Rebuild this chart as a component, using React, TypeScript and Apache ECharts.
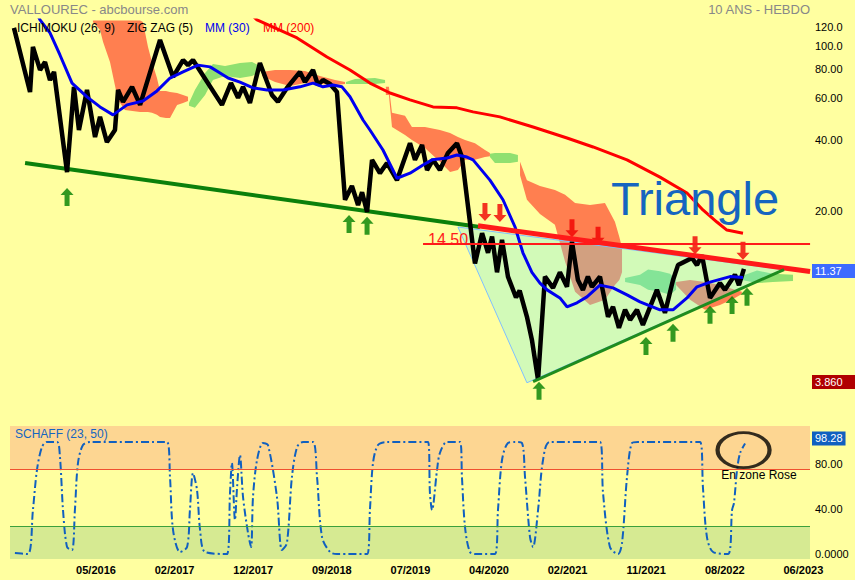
import React, { useEffect, useRef } from 'react';
import * as echarts from 'echarts';

const FONT = '"Liberation Sans", Arial, Helvetica, sans-serif';
const BG = '#FFFFA0';

// x axis: weeks counted from the weekly bar of 16/05/2016
const X_MIN = -44.86;
const X_MAX = 372.46;
const xTickWeeks = [0, 41, 82, 123, 164, 205, 246, 287, 328, 369];
const xTickLabels = ['05/2016', '02/2017', '12/2017', '09/2018', '07/2019', '04/2020', '02/2021', '11/2021', '08/2022', '06/2023'];

// price panel (log scale)
const PRICE_MIN = 3.17;
const PRICE_MAX = 128.5;
const priceTicks = [20, 40, 60, 80, 100, 120];
const lastClose = 11.37;
const lowestLow = 3.86;
const level1450 = 14.5;

// Schaff panel
const SCHAFF_MIN = -4.4;
const SCHAFF_MAX = 113.8;
const schaffTicks = [0, 40, 80];
const schaffHigh = 75;
const schaffLow = 25;
const schaffLast = 98.28;

// [week, price]
const zigzag: [number, number][] = [
  [-42.8, 119], [-34.4, 63.7], [-32.9, 98.9], [-29.2, 79], [-26.6, 85.3], [-24.0, 71.6], [-21.9, 77.5],
  [-15.1, 29.2], [-11.5, 67], [-8.9, 44], [-4.7, 65], [-0.5, 41.1], [2.1, 50], [5.7, 39.1], [9.9, 44],
  [11.5, 65.0], [14.1, 57.9], [18.8, 67.0], [23.0, 56.2], [33.4, 105.8], [40.2, 73.8], [45.4, 87.0],
  [48.0, 82.8], [50.6, 87], [65.7, 56.2], [70.4, 69.5], [74.1, 60.2], [76.7, 67], [80.3, 57.3],
  [85.5, 84.5], [91.8, 61.9], [94.9, 57.9], [99.6, 66.3], [106.4, 77.5], [109.0, 70.2], [113.2, 79],
  [115.8, 68.2], [118.4, 71.6], [122.1, 68.9], [125.7, 63.7], [129.9, 22.3], [133.5, 25.5], [136.7, 21.2],
  [138.8, 24.0], [141.4, 19.8], [144.0, 32.9], [148.1, 28.9], [151.8, 31.9], [157.0, 27.0], [163.8, 38.7],
  [166.4, 32.9], [170.1, 38.0], [172.7, 29.8], [175.8, 32.9], [179.4, 29.8], [183.6, 35.2], [188.3, 38.7],
  [190.9, 33.8], [197.7, 12.0], [201.4, 16.1], [204.5, 13.3], [206.6, 15.6], [209.2, 11.0], [211.8, 15.1],
  [214.9, 10.55], [219.1, 8.6], [221.0, 9.2], [224.8, 7.13], [227.4, 5.69], [230.6, 3.86], [234.2, 10.55],
  [238.4, 9.45], [242.0, 11.0], [245.7, 9.55], [248.3, 14.8], [251.4, 10.2], [254.0, 9.27], [256.6, 10.55],
  [258.7, 9.55], [262.9, 10.55], [267.1, 7.13], [269.7, 7.86], [272.8, 6.40], [276.0, 7.63], [278.6, 6.92],
  [282.2, 7.63], [285.3, 6.59], [292.6, 9.27], [296.8, 7.41], [301.0, 10.2], [303.6, 11.8], [310.9, 12.65],
  [313.5, 11.8], [316.1, 13.0], [320.3, 8.57], [325.5, 9.9], [328.1, 9.27], [333.3, 10.75], [335.4, 9.71],
  [338.0, 11.37],
];

const mm30: [number, number][] = [
  [-31.5, 140], [-29.2, 128.6], [-24.0, 113.3], [-18.8, 91.4], [-12.5, 69.5], [-4.7, 60.8], [2.1, 55.1],
  [8.9, 51.0], [16.2, 56.2], [24.5, 58.4], [31.8, 64.4], [38.6, 73.0], [45.4, 77.5], [53.2, 82.8], [59.5, 81.4],
  [64.7, 76.7], [68.9, 73.0], [75.1, 70.2], [81.9, 66.3], [89.2, 65.0], [97.5, 65.0], [106.4, 67.0],
  [113.2, 69.5], [118.4, 67.0], [123.6, 68.2], [128.3, 67.0], [132.5, 60.8], [139.3, 48.5], [142.9, 44.0],
  [149.7, 36.2], [157.0, 27.5], [163.8, 28.9], [170.6, 31.3], [175.3, 32.9], [183.1, 33.5], [188.3, 34.5],
  [193.5, 33.8], [196.7, 32.9], [205.5, 27.0], [212.3, 22.3], [218.6, 17.1], [222.7, 13.3], [227.4, 11.0],
  [231.6, 9.9], [235.3, 9.27], [242.0, 8.57], [245.7, 7.86], [250.9, 8.17], [256.1, 8.66], [262.9, 9.71],
  [269.7, 9.45], [277.0, 8.83], [283.8, 8.25], [294.2, 7.63], [301.0, 7.63], [308.3, 8.57], [313.5, 9.55],
  [320.3, 10.0], [330.7, 10.55], [337.5, 10.45],
];

const mm200: [number, number][] = [
  [80.0, 138], [84.0, 128.6], [104.9, 107.9], [120.5, 89.6], [132.5, 79.0], [142.9, 69.5], [153.4, 63.1],
  [163.8, 59.0], [175.8, 55.1], [188.3, 54.6], [196.7, 52.5], [210.7, 50.0], [228.0, 45.3], [245.7, 40.7],
  [259.3, 37.3], [277.0, 32.9], [294.2, 27.8], [308.3, 23.8], [316.6, 20.2], [323.9, 17.95], [329.1, 16.6],
  [337.5, 16.1],
];

// Ichimoku cloud segments: [week, upper span, lower span]
const cloudBear1: [number, number, number][] = [
  [-1.6, 128, 126.1], [2.1, 128, 116.7], [3.7, 128, 103.7], [7.3, 128, 85.3], [11.5, 128, 59.0],
  [15.1, 128, 53.5], [23.0, 128, 52.5], [24.5, 126, 52.5], [27.1, 98.9, 52.5], [29.2, 85.3, 52.0],
  [31.8, 73.0, 51.0], [33.4, 64.4, 50.0], [36.5, 64.4, 49.5], [38.6, 63.7, 49.5], [42.3, 63.1, 56.2],
  [45.4, 61.9, 57.3], [48.0, 60.8, 58.4],
];
const cloudBull1: [number, number, number][] = [
  [48.5, 57.3, 55.7], [51.6, 65.0, 54.6], [56.9, 76.7, 61.9], [61.0, 83.7, 71.6], [67.3, 82.1, 74.5],
  [75.1, 84.5, 73.0], [81.4, 85.3, 74.5], [85.5, 82.1, 77.5],
];
const cloudBear2: [number, number, number][] = [
  [86.6, 77.5, 74.5], [93.4, 79.0, 70.2], [101.2, 79.0, 67.6], [109.0, 78.2, 69.5], [116.8, 74.5, 68.9],
  [124.7, 71.6, 68.2], [129.9, 70.2, 68.9],
];
const cloudBull2: [number, number, number][] = [
  [130.4, 70.2, 68.9], [135.1, 72.3, 68.9], [145.5, 73.0, 68.9], [150.8, 71.6, 69.5],
];
const cloudBear3: [number, number, number][] = [
  [151.2, 67.0, 61.9], [152.8, 67.0, 61.9], [154.4, 52.0, 45.3], [161.2, 50.5, 41.9], [164.8, 45.3, 39.9],
  [171.6, 45.3, 36.9], [179.4, 44.0, 32.3], [184.7, 42.7, 29.2], [188.8, 41.1, 29.8], [192.5, 39.9, 32.9],
  [197.7, 38.7, 32.9], [202.9, 36.2, 33.8], [205.5, 35.2, 34.1],
];
const cloudBull3: [number, number, number][] = [
  [205.5, 34.9, 33.8], [208.1, 35.2, 31.9], [216.0, 35.2, 31.9], [220.1, 34.5, 32.3],
];
const cloudBear4: [number, number, number][] = [
  [221.2, 32.3, 28.3], [224.8, 27.0, 22.3], [231.6, 25.5, 19.4], [239.4, 24.5, 17.5], [244.7, 23.4, 12.2],
  [249.9, 21.6, 9.1], [257.7, 21.2, 8.0], [265.5, 21.6, 8.41], [270.7, 18.0, 9.71], [273.0, 15.5, 10.2],
  [274.4, 14.0, 11.0],
];
const cloudBull4: [number, number, number][] = [
  [276.0, 10.4, 10.0], [283.8, 10.75, 9.71], [288.0, 11.3, 9.27], [294.2, 11.1, 9.1], [299.4, 10.85, 8.83],
  [302.6, 10.2, 9.27],
];
const cloudBear5: [number, number, number][] = [
  [302.6, 10.0, 9.71], [309.9, 10.2, 8.41], [317.7, 10.0, 7.63], [325.5, 9.71, 8.0], [333.3, 9.27, 8.57],
  [336.9, 9.1, 8.9],
];
const cloudBull5: [number, number, number][] = [
  [336.9, 10.6, 10.2], [344.8, 11.2, 9.9], [353.1, 10.85, 10.0], [363.6, 10.75, 10.1],
];

// drawn figures
const supportLine: [number, number][] = [[-37.0, 31.9], [200.3, 17.1]];
const resistanceLine: [number, number][] = [[199.3, 17.3], [372.5, 11.08]];
const levelLine: [number, number][] = [[170.6, level1450], [372.5, level1450]];
const triangleBase: [number, number][] = [[228.0, 3.79], [358.9, 11.3]];
const triangle: [number, number][] = [[188.8, 17.1], [224.8, 3.75], [358.4, 11.3]];
const greenArrows: [number, number][] = [
  [-15.1, 22.9], [132.0, 17.6], [141.4, 17.3], [231.1, 3.47], [286.9, 5.37], [301.0, 6.10], [320.3, 7.27],
  [331.8, 8.0], [339.6, 8.66],
];
const redArrows: [number, number][] = [
  [202.9, 19.8], [210.7, 19.6], [248.3, 16.9], [261.9, 15.7], [312.5, 14.3], [337.5, 13.56],
];

// [week, value]
const schaff: [number, number][] = [
  [-42.3, 0.9], [-35.5, 0], [-32.9, 39.1], [-30.8, 74.7], [-28.2, 95.1], [-25.6, 99.6], [-20.3, 99.6],
  [-18.8, 86.2], [-17.2, 39.1], [-15.1, 6.2], [-12.5, 3.6], [-11.0, 39.1], [-9.4, 80.9], [-6.8, 96.9],
  [-3.1, 99.6], [37.0, 99.6], [38.6, 68.4], [40.2, 21.3], [43.8, 1.8], [47.5, 6.2], [49.0, 39.1], [50.6, 72.0],
  [52.7, 56.9], [54.3, 21.3], [56.9, 1.8], [68.3, 0], [69.9, 54.2], [70.9, 80.9], [72.5, 30.2], [73.6, 59.6],
  [75.1, 88.0], [76.7, 50.7], [79.3, 18.7], [80.9, 6.2], [81.9, 50.7], [84.0, 83.6], [87.1, 98.7], [89.7, 96.9],
  [94.4, 50.7], [97.0, 3.6], [99.6, 9.8], [102.2, 68.4], [104.9, 95.1], [108.0, 99.6], [113.2, 99.6],
  [115.3, 68.4], [117.9, 15.1], [122.1, 1.8], [125.7, 0], [141.4, 0], [142.9, 39.1], [144.5, 80.9],
  [147.1, 96.9], [151.8, 99.6], [173.2, 99.6], [174.2, 54.2], [175.3, 39.1], [177.9, 74.7], [179.4, 89.8],
  [183.1, 99.6], [189.9, 99.6], [190.9, 68.4], [192.5, 24.0], [195.1, 1.8], [198.7, 0], [208.1, 0],
  [209.7, 39.1], [211.8, 83.6], [214.9, 98.7], [218.6, 99.6], [222.2, 98.7], [223.8, 68.4], [226.4, 15.1],
  [228.0, 6.2], [230.6, 39.1], [233.2, 83.6], [236.8, 99.6], [262.9, 99.6], [264.5, 54.2], [268.1, 6.2],
  [272.3, 0], [274.4, 9.8], [277.0, 68.4], [279.6, 98.7], [282.7, 99.6], [315.1, 99.6], [316.6, 59.6],
  [318.7, 15.1], [321.9, 1.8], [329.7, 0], [331.8, 39.1], [332.8, 45.3], [334.4, 74.7], [336.0, 89.8],
  [338.6, 98.28],
];
const ellipseMark: [number, number][] = [[337.8, 92.4]];

const L = (v: number) => Math.log10(v);
const P = (pts: [number, number][]) => pts.map(([w, p]) => [w, L(p)]);

const cloudSegments = [
  { bull: false, pts: cloudBear1 }, { bull: true, pts: cloudBull1 },
  { bull: false, pts: cloudBear2 }, { bull: true, pts: cloudBull2 },
  { bull: false, pts: cloudBear3 }, { bull: true, pts: cloudBull3 },
  { bull: false, pts: cloudBear4 }, { bull: true, pts: cloudBull4 },
  { bull: false, pts: cloudBear5 }, { bull: true, pts: cloudBull5 },
];

const UP_ARROW = 'path://M6.5,0 L13,7 L9,7 L9,18 L4,18 L4,7 L0,7 Z';
const DOWN_ARROW = 'path://M4,0 L9,0 L9,11 L13,11 L6.5,18 L0,11 L4,11 Z';
const ELLIPSE = 'path://M0,50 C0,22.4 22.4,0 50,0 C77.6,0 100,22.4 100,50 C100,77.6 77.6,100 50,100 C22.4,100 0,77.6 0,50 Z';

function buildOption(): any {
  const priceFmt = (v: number) => {
    const p = Math.pow(10, v);
    return p >= 100 ? p.toFixed(1) : p.toFixed(2);
  };
  const lineS = (name: string, data: [number, number][], color: string, width: number, extra: any = {}) => ({
    type: 'line', name, xAxisIndex: 0, yAxisIndex: 0, data: P(data), symbol: 'none', silent: true,
    lineStyle: { color, width }, ...extra,
  });
  const markLabel = (text: string, bg: string, pad: number[], offset: number[]) => ({
    show: true, position: 'end', formatter: text, color: '#fff', backgroundColor: bg, padding: pad,
    fontSize: 11, fontFamily: FONT, distance: 2, offset,
  });
  const txt = (x: number, y: number, text: string, fill: string, size: number, align = 'left') => ({
    type: 'text', x, y, z: 100, silent: true,
    style: { text, fill, font: `${size}px ${FONT}`, align, verticalAlign: 'middle' },
  });

  return {
    animation: false,
    backgroundColor: BG,
    grid: [
      { left: 10, right: 45, top: 20, height: 380 },
      { left: 10, right: 45, top: 426, height: 133 },
    ],
    xAxis: [
      { type: 'value', gridIndex: 0, min: X_MIN, max: X_MAX, show: false },
      {
        type: 'value', gridIndex: 1, min: X_MIN, max: X_MAX,
        axisLine: { show: false }, axisTick: { show: false }, splitLine: { show: false },
        axisLabel: {
          customValues: xTickWeeks,
          formatter: (v: number) => {
            const i = xTickWeeks.findIndex((w) => Math.abs(w - v) < 0.01);
            return i >= 0 ? xTickLabels[i] : '';
          },
          color: '#000', fontWeight: 'bold', fontSize: 11, fontFamily: FONT, margin: 5,
        },
      },
    ],
    yAxis: [
      {
        type: 'value', gridIndex: 0, position: 'right', min: L(PRICE_MIN), max: L(PRICE_MAX),
        axisLine: { show: false }, axisTick: { show: false }, splitLine: { show: false },
        axisLabel: {
          customValues: priceTicks.map(L), formatter: priceFmt,
          color: '#000', fontSize: 11, fontFamily: FONT, margin: 5,
        },
      },
      {
        type: 'value', gridIndex: 1, position: 'right', min: SCHAFF_MIN, max: SCHAFF_MAX,
        axisLine: { show: false }, axisTick: { show: false }, splitLine: { show: false },
        axisLabel: {
          customValues: schaffTicks,
          formatter: (v: number) => (v === 0 ? '0.0000' : v.toFixed(2)),
          color: '#000', fontSize: 11, fontFamily: FONT, margin: 5,
        },
      },
    ],
    series: [
      {
        type: 'custom', name: 'ICHIMOKU (26, 9)', xAxisIndex: 0, yAxisIndex: 0, clip: true, silent: true,
        data: cloudSegments.map((s, i) => [s.pts[0][0], L(s.pts[0][1]), i]),
        encode: { x: 0, y: 1 },
        renderItem: (params: any, api: any) => {
          const seg = cloudSegments[params.dataIndex];
          const top = seg.pts.map((p) => api.coord([p[0], L(p[1])]));
          const bot = seg.pts.slice().reverse().map((p) => api.coord([p[0], L(p[2])]));
          return {
            type: 'polygon',
            shape: { points: top.concat(bot) },
            style: { fill: seg.bull ? '#90E070' : '#FF7F50', stroke: 'none' },
          };
        },
      },
      {
        type: 'custom', name: 'triangle', xAxisIndex: 0, yAxisIndex: 0, clip: true, silent: true,
        data: [[triangle[0][0], L(triangle[0][1])]],
        encode: { x: 0, y: 1 },
        renderItem: (params: any, api: any) => ({
          type: 'polygon',
          shape: { points: triangle.map((p) => api.coord([p[0], L(p[1])])) },
          style: { fill: 'rgba(105,238,243,0.3)', stroke: '#7FBFFF', lineWidth: 1 },
        }),
      },
      lineS('MM (200)', mm200, '#FF0000', 3),
      lineS('support', supportLine, '#0B800B', 4),
      lineS('ZIG ZAG (5)', zigzag, '#000000', 4.5, {
        markLine: {
          silent: true, symbol: ['none', 'none'],
          data: [
            { yAxis: L(lastClose), lineStyle: { width: 0, color: 'rgba(0,0,0,0)' }, label: markLabel(lastClose.toFixed(2), '#3D6BFF', [2, 14, 1, 3], [0, 3]) },
            { yAxis: L(lowestLow), lineStyle: { width: 0, color: 'rgba(0,0,0,0)' }, label: markLabel(lowestLow.toFixed(3), '#B00000', [2, 14, 1, 3], [0, 3]) },
          ],
        },
      }),
      lineS('MM (30)', mm30, '#0000F0', 3),
      lineS('resistance', resistanceLine, '#FF1A1A', 5),
      lineS('14.50', levelLine, '#FF1A1A', 2),
      lineS('triangle base', triangleBase, '#1E8C1E', 3),
      {
        type: 'scatter', name: 'supports', xAxisIndex: 0, yAxisIndex: 0, silent: true,
        data: P(greenArrows), symbol: UP_ARROW, symbolSize: [13, 18], itemStyle: { color: '#008000' },
      },
      {
        type: 'scatter', name: 'resistances', xAxisIndex: 0, yAxisIndex: 0, silent: true,
        data: P(redArrows), symbol: DOWN_ARROW, symbolSize: [13, 18], itemStyle: { color: '#F00000' },
      },
      {
        type: 'line', name: 'SCHAFF (23, 50)', xAxisIndex: 1, yAxisIndex: 1, data: schaff, symbol: 'none',
        silent: true, smooth: 0.3,
        lineStyle: { color: '#1060C0', width: 2, type: [8, 3, 2, 3] },
        markArea: {
          silent: true,
          data: [
            [{ yAxis: schaffHigh, itemStyle: { color: '#FDD692' } }, { yAxis: SCHAFF_MAX }],
            [{ yAxis: SCHAFF_MIN, itemStyle: { color: '#D6EA92' } }, { yAxis: schaffLow }],
          ],
        },
        markLine: {
          silent: true, symbol: ['none', 'none'],
          data: [
            { yAxis: schaffHigh, lineStyle: { color: '#F05030', width: 1, type: 'solid' }, label: { show: false } },
            { yAxis: schaffLow, lineStyle: { color: '#3CA03C', width: 1, type: 'solid' }, label: { show: false } },
            { yAxis: schaffLast, lineStyle: { width: 0, color: 'rgba(0,0,0,0)' }, label: markLabel(schaffLast.toFixed(2), '#1060C0', [2, 3, 1, 3], [0, -5]) },
          ],
        },
      },
      {
        type: 'scatter', name: 'zone', xAxisIndex: 1, yAxisIndex: 1, silent: true, data: ellipseMark,
        symbol: ELLIPSE, symbolSize: [52, 35], z: 10,
        itemStyle: { color: 'rgba(0,0,0,0)', borderColor: '#000', borderWidth: 3.5 },
      },
    ],
    graphic: [
      txt(10, 9, 'VALLOUREC - abcbourse.com', '#888', 13),
      txt(810, 9, '10 ANS - HEBDO', '#888', 13, 'right'),
      txt(17, 28, 'ICHIMOKU (26, 9)', '#000', 12),
      txt(127, 28, 'ZIG ZAG (5)', '#000', 12),
      txt(205, 28, 'MM (30)', '#0000F0', 12),
      txt(263, 28, 'MM (200)', '#FF0000', 12),
      txt(611, 198, 'Triangle', '#1565C0', 47),
      txt(428, 239, '14.50', '#FF1A1A', 16),
      txt(15, 434, 'SCHAFF (23, 50)', '#1565C0', 12),
      txt(759, 475, 'En zone Rose', '#000', 12, 'center'),
    ],
  };
}

export default function App() {
  const ref = useRef<HTMLDivElement>(null);
  useEffect(() => {
    if (!ref.current) return;
    const chart = echarts.init(ref.current, null, { renderer: 'svg' });
    chart.setOption(buildOption());
    return () => chart.dispose();
  }, []);
  return (
    <div
      ref={ref}
      style={{ position: 'absolute', left: 0, top: 0, width: 855, height: 580, background: BG }}
    />
  );
}
